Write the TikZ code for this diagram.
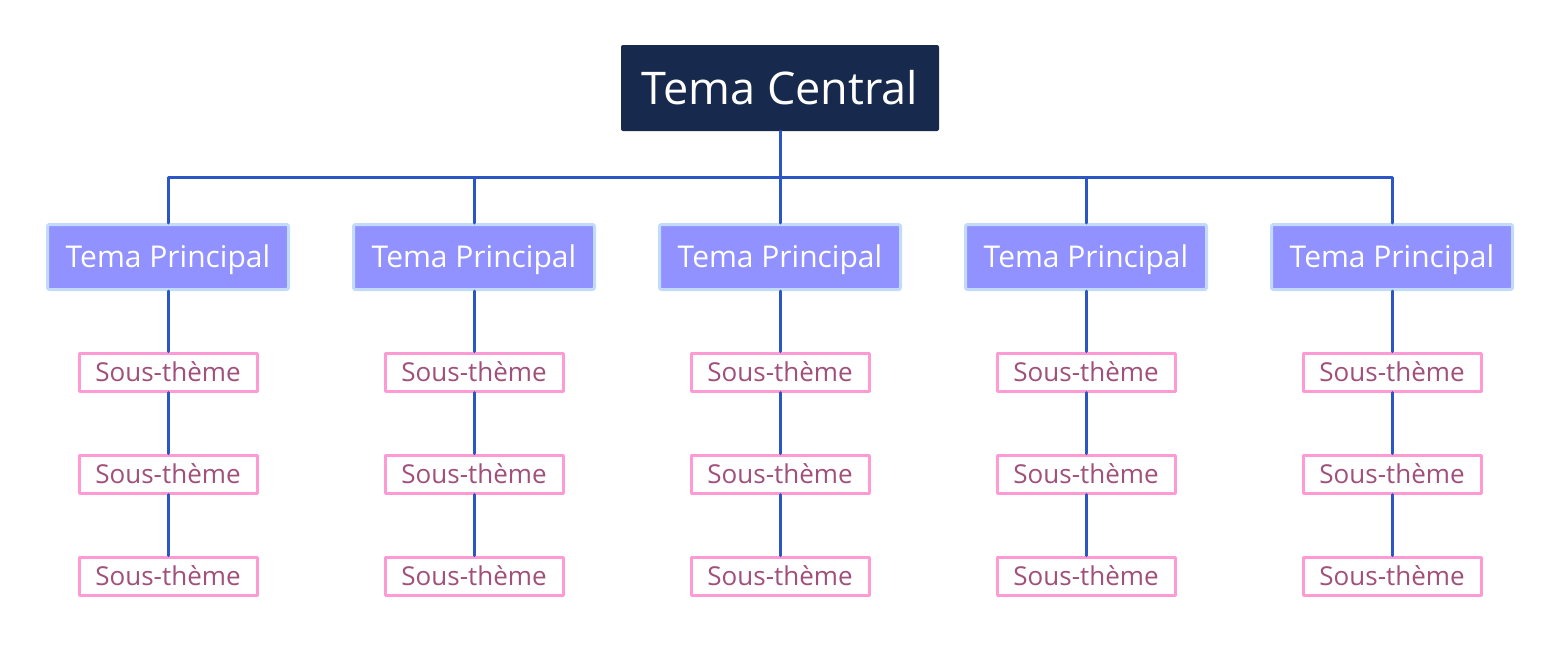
\documentclass[tikz,border=0pt]{standalone}
\usepackage{fontspec}
\setmainfont{Open Sans}
\definecolor{navy}{HTML}{172A4D}
\definecolor{lilac}{HTML}{9191FF}
\definecolor{lilacborder}{HTML}{C3DBFB}
\definecolor{pinkborder}{HTML}{FF9AD5}
\definecolor{plum}{HTML}{A0507A}
\definecolor{linkblue}{HTML}{2B56C6}

\begin{document}
\begin{tikzpicture}[
    x=1pt,y=-1pt,
    line cap=round,
    line join=round,
    central/.style={fill=navy,text=white,rounded corners=2pt,inner sep=0pt,
        minimum width=318pt,minimum height=86pt,text height=32pt,text depth=0pt,
        font=\fontsize{45}{54}\selectfont},
    maintopic/.style={fill=lilac,draw=lilacborder,line width=3pt,rounded corners=2pt,
        text=white,inner sep=0pt,minimum width=241pt,minimum height=65pt,
        text height=21.5pt,text depth=0pt,font=\fontsize{30}{36}\selectfont},
    subtopic/.style={fill=white,draw=pinkborder,line width=3pt,text=plum,inner sep=0pt,
        minimum width=178pt,minimum height=38pt,text height=18.5pt,text depth=0pt,
        font=\fontsize{26}{31}\selectfont},
    link/.style={draw=linkblue,line width=3pt}
]

% -------------------------------------------------
% Cadre
% -------------------------------------------------
\useasboundingbox (0,0) rectangle (1560,656);

% -------------------------------------------------
% Noeud central
% -------------------------------------------------
\node[central] (centre) at (780,88) {Tema Central};
\coordinate (bus) at (780,177);

% -------------------------------------------------
% Themes principaux et sous-themes
% -------------------------------------------------
\foreach \i/\x in {1/168,2/474,3/780,4/1086,5/1392} {
    \node[maintopic] (main\i) at (\x,257) {Tema Principal};
    \node[subtopic] (sub\i a) at (\x,372) {Sous-thème};
    \node[subtopic] (sub\i b) at (\x,474) {Sous-thème};
    \node[subtopic] (sub\i c) at (\x,576) {Sous-thème};

    % liens verticaux
    \draw[link] (bus) -| (main\i.north);
    \draw[link] (main\i) -- (sub\i a);
    \draw[link] (sub\i a) -- (sub\i b);
    \draw[link] (sub\i b) -- (sub\i c);
}

% lien du noeud central
\draw[link] (centre.south) -- (bus);

\end{tikzpicture}
\end{document}
